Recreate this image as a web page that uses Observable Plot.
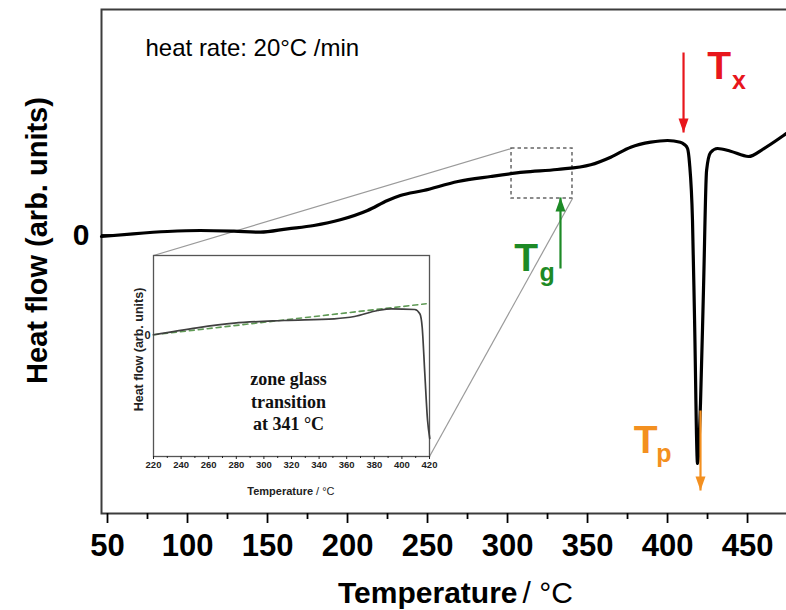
<!DOCTYPE html>
<html>
<head>
<meta charset="utf-8">
<script src="https://cdn.jsdelivr.net/npm/d3@7"></script>
<script src="https://cdn.jsdelivr.net/npm/@observablehq/plot@0.6"></script>
<style>
  body { margin: 0; background: #fff; }
  #wrap { position: relative; width: 786px; height: 610px; overflow: hidden; }
  #inset { position: absolute; left: 120px; top: 245px; }
</style>
</head>
<body>
<div id="wrap"><div id="main"></div><div id="inset"></div></div>
<script>
// ---- main DSC trace (temperature in °C, heat flow in arbitrary units) ----
const temperature = [46.25, 66, 87.5, 108, 129, 145.5, 162.5, 179, 195.5, 212.5, 225, 233, 247.5, 269, 289.5, 310, 331, 352, 364.5, 377, 389.5, 400, 408, 410.5, 412.5, 413.75, 415.6, 416.9, 418.75, 420.6, 422.5, 424.4, 426.9, 431.25, 439.4, 450.6, 460, 472.5, 480];
const heatFlow    = [-0.15, 0.12, 0.35, 0.45, 0.38, 0.28, 0.62, 0.95, 1.52, 2.45, 3.45, 3.95, 4.45, 5.35, 5.85, 6.28, 6.55, 7.02, 7.78, 8.78, 9.28, 9.45, 9.28, 9.05, 8.65, 7.15, 1.45, -8.55, -22.85, -16.85, -5.25, 6.45, 8.25, 8.65, 8.38, 7.85, 8.62, 9.95, 10.8];

// ---- inset (zoom of glass transition zone) ----
const insetTemperature = [220, 251.5, 278.4, 314.7, 351, 365.6, 382.5, 392.4, 409.3, 413, 414.7, 416.6, 418.6, 420.2];
const insetHeatFlow    = [0.07, 0.77, 1.23, 1.5, 1.67, 1.9, 2.5, 2.67, 2.6, 2.17, 0.83, -3.8, -8.5, -10.3];
const baselineTemperature = [220, 417.6];
const baselineHeatFlow    = [0.07, 3.17];

// ---- ticks ----
const xTicks = [50, 100, 150, 200, 250, 300, 350, 400, 450];
const xMinorTicks = [75, 125, 175, 225, 275, 325, 375, 425, 475];
const yTicks = [0];
const insetXTicks = [220, 240, 260, 280, 300, 320, 340, 360, 380, 400, 420];
const insetXMinorTicks = [230, 250, 270, 290, 310, 330, 350, 370, 390, 410];

// ---- characteristic temperatures / annotations (data units) ----
const arrowNames = ["Tx", "Tg", "Tp"];
const arrowTemperature = [410, 333.1, 420.6];
const arrowFrom = [18.25, -3.35, -17.55];
const arrowTo   = [10.25, 3.75, -25.55];
const labelMain = ["T", "T", "T"];
const labelSub  = ["x", "g", "p"];
const labelTemperature = [432.2, 311.6, 386.25];
const labelHeatFlow    = [15.65, -3.55, -21.75];
const subTemperature   = [444.7, 324.7, 397.8];
const subHeatFlow      = [14.65, -4.55, -22.65];
const zoomBoxTemperature = [302.5, 340.6];
const zoomBoxHeatFlow    = [3.65, 8.65];
const insetCornerTemperature = [78.75, 251.25];
const insetCornerHeatFlow    = [-2.05, -22.15];

const colors = {Tx: "#e8161c", Tg: "#1d8a26", Tp: "#f39020"};
const sans = "'Liberation Sans', Arial, Helvetica, sans-serif";
const serif = "'Liberation Serif', 'Times New Roman', serif";

const curve = temperature.map((t, i) => ({t, h: heatFlow[i]}));
const arrows = arrowNames.map((n, i) => ({n, t: arrowTemperature[i], a: arrowFrom[i], b: arrowTo[i], up: arrowTo[i] > arrowFrom[i]}));
const labels = arrowNames.map((n, i) => ({n, main: labelMain[i], sub: labelSub[i], t: labelTemperature[i], h: labelHeatFlow[i], ts: subTemperature[i], hs: subHeatFlow[i]}));
const zoomBox = [{x1: zoomBoxTemperature[0], x2: zoomBoxTemperature[1], y1: zoomBoxHeatFlow[0], y2: zoomBoxHeatFlow[1]}];
const connectors = [
  {x1: insetCornerTemperature[0], y1: insetCornerHeatFlow[0], x2: zoomBoxTemperature[0], y2: zoomBoxHeatFlow[1]},
  {x1: insetCornerTemperature[1], y1: insetCornerHeatFlow[1], x2: zoomBoxTemperature[1], y2: zoomBoxHeatFlow[0]}
];

// slender filled arrowheads with the tip at the origin
const headUp = {draw(ctx) { ctx.moveTo(0, 0); ctx.lineTo(-5, 14); ctx.lineTo(5, 14); ctx.closePath(); }};
const headDown = {draw(ctx) { ctx.moveTo(0, 0); ctx.lineTo(-5, -14); ctx.lineTo(5, -14); ctx.closePath(); }};

const main = Plot.plot({
  width: 786, height: 610,
  marginLeft: 101, marginRight: -10, marginTop: 9, marginBottom: 97,
  x: {domain: [46.25, 480.6]},
  y: {domain: [-27.85, 22.55]},
  style: {fontFamily: sans, color: "#000", background: "#fff", overflow: "visible"},
  marks: [
    Plot.frame({stroke: "#3c3c3c", strokeWidth: 2}),
    Plot.axisX({ticks: xMinorTicks, tickSize: 6, tickFormat: () => "", label: null, strokeWidth: 1.8}),
    Plot.axisX({ticks: xTicks, tickSize: 10, tickPadding: 10, tickFormat: d => String(d), fontSize: 31, fontWeight: "bold", label: null, strokeWidth: 1.8}),
    Plot.axisY({ticks: yTicks, tickSize: -12, tickPadding: 24, tickFormat: d => String(d), fontSize: 30, fontWeight: "bold", label: null, strokeWidth: 1.8}),
    Plot.text(["Heat flow (arb. units)"], {frameAnchor: "left", rotate: -90, dx: -64, dy: -21, fontSize: 29, fontWeight: "bold", textAnchor: "middle"}),
    Plot.text(["Temperature"], {frameAnchor: "bottom", dx: 68.5, dy: 89, lineAnchor: "bottom", textAnchor: "end", fontSize: 30, fontWeight: "bold"}),
    Plot.text(["/ °C"], {frameAnchor: "bottom", dx: 73.5, dy: 89, lineAnchor: "bottom", textAnchor: "start", fontSize: 30}),
    Plot.text(["heat rate: 20°C /min"], {frameAnchor: "top-left", dx: 44, dy: 46, lineAnchor: "bottom", textAnchor: "start", fontSize: 24}),
    Plot.link(connectors, {x1: "x1", y1: "y1", x2: "x2", y2: "y2", stroke: "#9a9a9a", strokeWidth: 1.2}),
    Plot.rect(zoomBox, {x1: "x1", x2: "x2", y1: "y1", y2: "y2", fill: "none", stroke: "#666", strokeWidth: 1.5, strokeDasharray: "3.5,3"}),
    Plot.line(curve, {x: "t", y: "h", stroke: "#000", strokeWidth: 3.2, curve: "monotone-x"}),
    Plot.link(arrows, {x1: "t", x2: "t", y1: "a", y2: "b", stroke: d => colors[d.n], strokeWidth: 2.2}),
    Plot.dot(arrows.filter(d => d.up), {x: "t", y: "b", symbol: headUp, fill: d => colors[d.n], stroke: null}),
    Plot.dot(arrows.filter(d => !d.up), {x: "t", y: "b", symbol: headDown, fill: d => colors[d.n], stroke: null}),
    Plot.text(labels, {x: "t", y: "h", text: "main", fill: d => colors[d.n], fontSize: 39, fontWeight: "bold", lineAnchor: "bottom", textAnchor: "middle"}),
    Plot.text(labels, {x: "ts", y: "hs", text: "sub", fill: d => colors[d.n], fontSize: 25, fontWeight: "bold", lineAnchor: "bottom", textAnchor: "middle"})
  ]
});
document.getElementById("main").appendChild(main);

const insetCurve = insetTemperature.map((t, i) => ({t, h: insetHeatFlow[i]}));
const baseline = baselineTemperature.map((t, i) => ({t, h: baselineHeatFlow[i]}));

const inset = Plot.plot({
  width: 318, height: 255,
  marginLeft: 33, marginRight: 9, marginTop: 10, marginBottom: 44,
  x: {domain: [220, 420]},
  y: {domain: [-12.1, 8]},
  style: {fontFamily: sans, color: "#222", background: "transparent", overflow: "visible"},
  marks: [
    Plot.frame({stroke: "#555", strokeWidth: 1.3, fill: "#fff"}),
    Plot.axisX({ticks: insetXMinorTicks, tickSize: 2, tickFormat: () => "", label: null}),
    Plot.axisX({ticks: insetXTicks, tickSize: 3, tickPadding: 2, tickFormat: d => String(d), fontSize: 9.5, fontWeight: "bold", label: null}),
    Plot.axisY({ticks: yTicks, tickSize: 0, tickPadding: 3, tickFormat: d => String(d), fontSize: 11, fontWeight: "bold", label: null}),
    Plot.text(["Heat flow (arb. units)"], {frameAnchor: "left", rotate: -90, dx: -15, dy: -6.5, fontSize: 12.5, fontWeight: "bold", textAnchor: "middle"}),
    Plot.text(["Temperature"], {frameAnchor: "bottom", dx: 21.6, dy: 38, lineAnchor: "bottom", textAnchor: "end", fontSize: 11, fontWeight: "bold"}),
    Plot.text(["/ °C"], {frameAnchor: "bottom", dx: 24.6, dy: 38, lineAnchor: "bottom", textAnchor: "start", fontSize: 11}),
    Plot.line(baseline, {x: "t", y: "h", stroke: "#5f9a55", strokeWidth: 1.6, strokeDasharray: "5,4"}),
    Plot.line(insetCurve, {x: "t", y: "h", stroke: "#404040", strokeWidth: 1.7, curve: "monotone-x"}),
    Plot.text(["zone glass\ntransition\nat 341 °C"], {frameAnchor: "top-left", dx: 135, dy: 114, lineAnchor: "top", lineHeight: 1.25, textAnchor: "middle", fontFamily: serif, fontSize: 18, fontWeight: "bold", fill: "#111"})
  ]
});
document.getElementById("inset").appendChild(inset);
</script>
</body>
</html>
